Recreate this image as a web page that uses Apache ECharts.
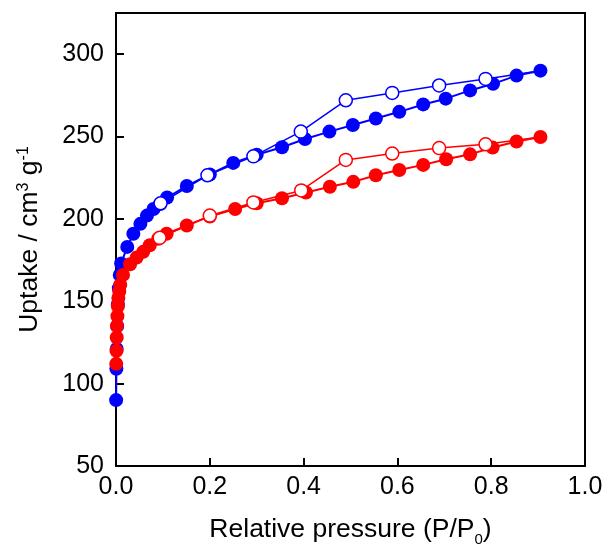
<!DOCTYPE html>
<html>
<head>
<meta charset="utf-8">
<script src="https://cdn.jsdelivr.net/npm/echarts@6/dist/echarts.min.js"></script>
<style>
html,body{margin:0;padding:0;background:#fff;}
#chart{width:609px;height:552px;}
</style>
</head>
<body>
<div id="chart"></div>
<script>
// Tick labels / axis settings
var xTicks = [0.0, 0.2, 0.4, 0.6, 0.8, 1.0];
var yTicks = [50, 100, 150, 200, 250, 300];

// Blue sample: adsorption (filled) [P/P0, uptake]
var blueAdsorption = [
  [0.0003, 90], [0.0008, 109], [0.0015, 121], [0.0025, 135], [0.004, 148],
  [0.006, 158], [0.008, 166], [0.011, 173], [0.024, 183], [0.037, 191],
  [0.052, 197], [0.066, 202], [0.080, 206], [0.094, 209], [0.109, 213],
  [0.151, 220], [0.200, 227], [0.250, 234], [0.300, 239], [0.354, 243.5],
  [0.403, 248.5], [0.455, 253], [0.505, 257], [0.554, 261], [0.604, 265],
  [0.655, 269.5], [0.703, 273], [0.755, 278], [0.804, 282], [0.854, 287],
  [0.905, 290]
];
// Blue sample: desorption (open), starting from the last adsorption point
var blueDesorption = [
  [0.905, 290], [0.788, 285], [0.689, 281], [0.589, 276.5], [0.490, 272],
  [0.394, 253], [0.293, 238], [0.195, 226.5], [0.095, 209.5]
];
// Red sample: adsorption (filled)
var redAdsorption = [
  [0.0005, 112], [0.001, 120], [0.0015, 128], [0.002, 135], [0.003, 141],
  [0.004, 147], [0.005, 152], [0.007, 156], [0.009, 160], [0.015, 166],
  [0.030, 172.5], [0.044, 176.5], [0.058, 180], [0.072, 184], [0.090, 188],
  [0.108, 191], [0.151, 196], [0.200, 201.5], [0.254, 206], [0.300, 209.5],
  [0.354, 212.5], [0.405, 216], [0.456, 219.5], [0.506, 222.5], [0.554, 226.5],
  [0.604, 229.7], [0.655, 232.8], [0.704, 236.2], [0.755, 239.2], [0.803, 243.3],
  [0.854, 247], [0.905, 249.7]
];
// Red sample: desorption (open)
var redDesorption = [
  [0.905, 249.7], [0.788, 245.3], [0.689, 243], [0.589, 239.7], [0.490, 235.8],
  [0.395, 217.3], [0.293, 210], [0.200, 202], [0.093, 188.5]
];

var FONT = 'Liberation Sans';
var BLUE = '#0000ff';
var RED = '#ff0000';

function desData(arr) {
  return arr.map(function (p, i) {
    return i === 0 ? { value: p, symbol: 'none' } : { value: p };
  });
}

var chart = echarts.init(document.getElementById('chart'), null, { renderer: 'canvas' });

var option = {
  animation: false,
  backgroundColor: '#fff',
  grid: {
    left: 116, right: 24, top: 13, bottom: 84,
    show: true, borderColor: '#000', borderWidth: 2, backgroundColor: 'transparent'
  },
  xAxis: {
    type: 'value',
    min: xTicks[0], max: xTicks[xTicks.length - 1], interval: 0.2,
    axisLine: { show: true, onZero: false, lineStyle: { color: '#000', width: 2 } },
    axisTick: { show: true, inside: true, length: 8, lineStyle: { color: '#000', width: 2 } },
    splitLine: { show: false },
    axisLabel: {
      margin: 9, color: '#000', fontFamily: FONT, fontSize: 25,
      formatter: function (v) { return v.toFixed(1); }
    },
    name: '{n|Relative pressure (P/P}{sub|0}{n|)}',
    nameLocation: 'middle',
    nameGap: 50,
    nameTextStyle: {
      color: '#000', fontFamily: FONT, fontSize: 26.5,
      rich: {
        n: { fontFamily: FONT, fontSize: 26.5, lineHeight: 27, verticalAlign: 'top', color: '#000' },
        sub: { fontFamily: FONT, fontSize: 15, lineHeight: 15, verticalAlign: 'top', padding: [16, 0, 0, 0], color: '#000' }
      }
    }
  },
  yAxis: {
    type: 'value',
    min: yTicks[0], max: 325, interval: 50,
    axisLine: { show: true, onZero: false, lineStyle: { color: '#000', width: 2 } },
    axisTick: { show: true, inside: true, length: 8, lineStyle: { color: '#000', width: 2 } },
    splitLine: { show: false },
    axisLabel: {
      margin: 12, color: '#000', fontFamily: FONT, fontSize: 25,
      showMaxLabel: false,
      formatter: function (v) { return yTicks.indexOf(v) >= 0 ? String(v) : ''; }
    },
    name: '{n|Uptake / cm}{sup|3}{n| g}{sup|-1}',
    nameLocation: 'middle',
    nameGap: 68,
    nameTextStyle: {
      color: '#000', fontFamily: FONT, fontSize: 26.5,
      rich: {
        n: { fontFamily: FONT, fontSize: 26.5, lineHeight: 32, verticalAlign: 'top', color: '#000' },
        sup: { fontFamily: FONT, fontSize: 16, lineHeight: 16, verticalAlign: 'top', color: '#000' }
      }
    }
  },
  series: [
    {
      name: 'blue-ads', type: 'line', data: blueAdsorption,
      symbol: 'circle', symbolSize: 14, showAllSymbol: true,
      lineStyle: { color: BLUE, width: 2 },
      itemStyle: { color: BLUE, borderColor: BLUE, borderWidth: 0 },
      z: 2
    },
    {
      name: 'blue-des', type: 'line', data: desData(blueDesorption),
      symbol: 'circle', symbolSize: 13, showAllSymbol: true,
      lineStyle: { color: BLUE, width: 1.5 },
      itemStyle: { color: '#fff', borderColor: BLUE, borderWidth: 1.5 },
      z: 3
    },
    {
      name: 'red-ads', type: 'line', data: redAdsorption,
      symbol: 'circle', symbolSize: 14, showAllSymbol: true,
      lineStyle: { color: RED, width: 2 },
      itemStyle: { color: RED, borderColor: RED, borderWidth: 0 },
      z: 4
    },
    {
      name: 'red-des', type: 'line', data: desData(redDesorption),
      symbol: 'circle', symbolSize: 13, showAllSymbol: true,
      lineStyle: { color: RED, width: 1.5 },
      itemStyle: { color: '#fff', borderColor: RED, borderWidth: 1.5 },
      z: 5
    }
  ]
};

chart.setOption(option);
</script>
</body>
</html>
